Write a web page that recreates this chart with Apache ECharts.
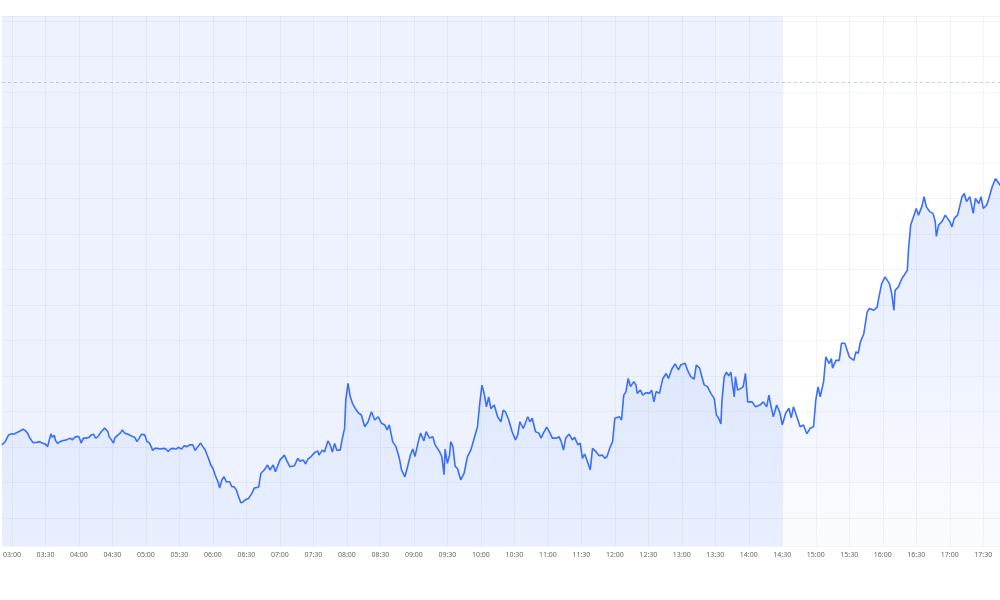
<!DOCTYPE html>
<html>
<head>
<meta charset="utf-8">
<title>Intraday</title>
<script src="https://cdn.jsdelivr.net/npm/echarts@6/dist/echarts.min.js"></script>
<style>
  html, body { margin: 0; padding: 0; background: #fff; }
  #chart { width: 1000px; height: 600px; }
</style>
</head>
<body>
<div id="chart"></div>
<script>
// time of each point, minutes since midnight (02:51 .. 17:45)
var minutes = [171,174,177,180,182,184,186,187,190,192,194,196,199,202,205,207,210,212,214,215,216,218,219,221,223,226,229,232,234,237,240,242,244,247,249,251,253,255,257,260,263,266,267,269,271,272,275,277,279,281,284,287,290,292,294,296,299,301,303,305,306,308,310,311,313,316,318,320,322,324,327,329,332,334,337,339,342,344,347,349,351,353,356,358,360,362,365,366,368,370,372,375,377,379,381,383,385,387,389,392,395,397,401,403,406,409,411,414,416,420,424,426,429,433,436,438,441,443,445,448,451,454,455,458,460,463,465,467,469,471,474,476,478,479,481,483,485,488,490,493,496,499,502,505,508,511,514,516,518,521,524,527,529,532,534,537,539,541,544,546,549,551,554,557,559,563,565,567,568,570,572,573,575,577,579,582,585,588,591,594,597,599,601,603,605,607,609,612,615,618,620,622,625,628,631,633,635,638,642,644,646,649,652,654,656,659,662,664,668,670,672,674,676,679,682,684,687,689,691,693,696,698,700,703,706,709,711,713,716,718,720,724,726,728,730,732,734,737,739,740,743,745,748,751,753,755,757,760,763,766,768,771,774,777,779,783,785,788,791,793,796,798,800,803,806,809,811,813,815,816,818,820,822,824,825,827,828,830,833,835,837,839,843,846,850,853,856,858,860,862,865,868,870,873,876,878,880,883,886,889,892,895,898,900,902,904,907,909,912,914,915,918,921,923,926,930,934,936,938,940,943,946,948,952,955,956,959,962,966,968,970,971,974,977,980,982,983,985,988,990,992,995,997,999,1002,1005,1007,1008,1010,1013,1016,1018,1020,1022,1024,1027,1031,1033,1035,1038,1041,1043,1046,1048,1050,1053,1055,1058,1061,1063,1065];

var values = [40.6,41.5,43.4,43.7,43.6,44.0,44.3,43.9,45.0,44.6,43.9,42.5,41.2,41.3,41.5,41.1,40.8,40.1,42.7,43.7,42.7,43.3,41.8,41.0,41.5,41.8,42.0,42.5,42.0,42.9,42.9,41.1,42.5,42.5,42.7,43.4,43.6,42.5,42.9,44.3,45.3,44.3,42.9,42.0,41.1,42.5,43.4,43.9,44.8,43.9,43.6,43.1,42.7,41.5,42.5,43.6,43.4,41.5,41.2,39.9,39.0,39.6,39.6,40.1,39.4,39.6,39.4,38.7,39.4,39.6,39.4,39.9,39.4,40.3,40.1,40.6,40.6,39.0,40.3,41.1,40.1,39.2,36.8,35.0,34.0,32.1,29.8,28.4,30.7,31.6,30.2,30.2,28.8,28.8,27.9,26.0,24.3,24.5,25.1,25.5,27.0,28.4,28.7,32.6,33.5,34.9,33.5,34.9,33.0,36.3,37.7,36.3,34.4,34.7,36.8,36.0,36.3,35.2,36.6,37.3,38.4,38.9,37.7,39.1,38.6,41.7,40.6,38.6,41.0,39.1,39.1,42.5,45.3,53.2,57.9,54.2,52.3,50.6,49.7,49.0,45.7,47.1,49.9,47.6,48.5,46.7,46.2,44.8,46.2,41.5,40.1,36.8,33.5,31.6,34.0,37.8,39.4,37.3,41.5,43.9,41.7,44.3,42.5,42.9,40.6,38.7,37.3,32.2,39.4,35.4,37.8,41.5,40.1,34.5,34.0,30.7,32.6,37.3,39.1,42.4,45.7,52.3,57.4,55.0,51.3,54.1,50.8,51.8,48.5,47.1,50.4,49.9,47.6,44.3,42.0,43.4,47.1,45.2,48.5,47.1,48.1,44.3,43.9,42.5,43.9,45.6,43.9,42.5,42.5,42.9,41.5,39.1,42.5,43.6,42.0,42.7,40.6,41.1,36.8,38.0,35.4,33.5,39.6,38.7,37.5,37.7,36.8,37.3,40.1,41.5,48.1,48.5,47.6,54.6,55.6,59.3,57.0,58.4,57.4,55.1,56.0,54.6,55.3,55.1,56.0,52.7,55.6,55.1,59.3,60.7,59.3,61.9,63.4,61.7,63.1,63.6,61.7,59.8,59.1,63.1,62.2,59.8,57.5,57.0,55.1,53.7,49.0,48.1,46.5,53.2,59.8,61.1,60.0,61.1,58.4,54.1,59.8,56.0,56.5,57.0,60.7,52.7,52.7,51.3,51.8,52.7,51.3,54.6,51.3,48.5,51.8,49.5,46.2,49.5,50.9,48.2,51.3,48.5,45.7,46.2,43.7,45.3,45.7,53.2,56.9,54.1,58.4,65.4,63.5,64.9,62.2,64.4,64.4,69.2,69.2,65.4,64.4,66.8,66.4,69.6,71.9,78.0,79.0,78.5,79.4,81.3,86.0,87.9,86.0,83.2,78.5,84.1,85.1,87.4,88.8,89.8,95.4,102.5,105.3,107.2,105.3,107.7,110.5,107.7,106.3,105.8,103.5,99.3,102.5,103.5,105.3,104.4,103.5,102.0,104.4,105.3,110.5,111.4,109.1,110.5,105.8,110.0,108.6,110.5,107.2,108.1,110.0,113.3,115.6,114.7,113.7];

// shaded session (start .. 14:30) and dashed reference level
var sessionEnd = 870;
var refLevel = 142.7;

var xMin = 171, xMax = 1065;
var yMin = 12.1, yMax = 161.4;

function pad(n) {
  return (n < 10 ? '0' : '') + n;
}
function fmtTime(v) {
  return pad(Math.floor(v / 60)) + ':' + pad(v % 60);
}

var chart = echarts.init(document.getElementById('chart'));

var option = {
  animation: false,
  backgroundColor: '#fff',
  grid: { left: 0, right: 0, top: 16, bottom: 54 },
  xAxis: {
    type: 'value',
    min: xMin,
    max: xMax,
    minInterval: 30,
    maxInterval: 30,
    axisLine: { show: false },
    axisTick: { show: false },
    axisLabel: {
      showMinLabel: false,
      showMaxLabel: false,
      color: '#666',
      fontSize: 7,
      fontFamily: 'Noto Sans',
      margin: 5,
      formatter: fmtTime
    },
    splitLine: {
      show: true,
      showMinLine: false,
      showMaxLine: false,
      lineStyle: { color: 'rgba(0,0,0,0.045)', width: 1 }
    }
  },
  yAxis: {
    type: 'value',
    min: yMin,
    max: yMax,
    minInterval: 10,
    maxInterval: 10,
    axisLine: { show: false },
    axisTick: { show: false },
    axisLabel: { show: false },
    splitLine: { show: true, lineStyle: { color: 'rgba(0,0,0,0.045)', width: 1 } }
  },
  series: [
    {
      type: 'line',
      data: minutes.map(function (m, i) { return [m, values[i]]; }),
      showSymbol: false,
      symbol: 'none',
      lineStyle: { color: '#3a6ff7', width: 1.6 },
      itemStyle: { color: '#3a6ff7' },
      areaStyle: {
        color: new echarts.graphic.LinearGradient(0, 0, 0, 1, [
          { offset: 0, color: 'rgba(58,111,247,0.2)' },
          { offset: 1, color: 'rgba(58,111,247,0.03)' }
        ])
      },
      markArea: {
        silent: true,
        itemStyle: { color: 'rgba(58,111,247,0.09)' },
        data: [[{ xAxis: xMin }, { xAxis: sessionEnd }]]
      },
      markLine: {
        silent: true,
        symbol: 'none',
        label: { show: false },
        lineStyle: { color: 'rgba(58,111,247,0.35)', type: [3, 3], width: 1 },
        data: [{ yAxis: refLevel }]
      }
    }
  ]
};

chart.setOption(option);
</script>
</body>
</html>
